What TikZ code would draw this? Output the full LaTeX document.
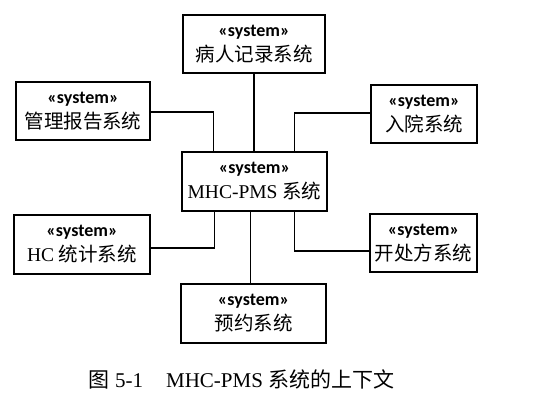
\documentclass[tikz,border=0pt]{standalone}
\usepackage{fontspec}
\setmainfont{Liberation Serif}
\newfontfamily\cjk{Noto Sans CJK SC}
\newfontfamily\stereofont{Carlito}
\newcommand{\stlabel}{{\stereofont\bfseries\fontsize{18}{18}\selectfont «system»}}
\tikzset{
  sysbox/.style={draw, line width=1.6pt, minimum height=58pt, align=center, inner sep=0pt,
    font=\fontsize{19.5}{25}\selectfont},
  conn/.style={line width=1.3pt},
  caption/.style={font=\fontsize{21}{23}\selectfont}
}
\begin{document}
\begin{tikzpicture}[x=1pt,y=1pt]
\useasboundingbox (0,0) rectangle (536,-408);
\node[sysbox, minimum width=142pt] (T) at (254,-44) {\stlabel\\{\cjk 病人记录系统}};
\node[sysbox, minimum width=134pt] (L) at (83,-111) {\stlabel\\{\cjk 管理报告系统}};
\node[sysbox, minimum width=106pt] (R) at (424,-114) {\stlabel\\{\cjk 入院系统}};
\node[sysbox, minimum width=145pt, minimum height=59pt] (C) at (254.5,-181.5) {\stlabel\\MHC-PMS {\cjk 系统}};
\node[sysbox, minimum width=136pt, minimum height=59pt] (H) at (82,-244.5) {\stlabel\\HC {\cjk 统计系统}};
\node[sysbox, minimum width=107pt] (P) at (423.5,-243) {\stlabel\\{\cjk 开处方系统}};
\node[sysbox, minimum width=145pt, minimum height=59pt] (B) at (253.5,-313.5) {\stlabel\\{\cjk 预约系统}};
\node[caption] (cap) at (241.5,-379) {{\cjk 图} 5-1\hspace{1.1em}MHC-PMS {\cjk 系统的上下文}};
\draw[conn] (T.south) -- (T.south |- C.north);
\draw[conn] ([yshift=-1pt]L.east) -| ([xshift=-41pt]C.north);
\draw[conn] ([yshift=1pt]R.west) -| ([xshift=40pt]C.north);
\draw[conn] ([xshift=-40pt]C.south) |- ([yshift=-3.5pt]H.east);
\draw[conn] ([xshift=40pt]C.south) |- ([yshift=-8pt]P.west);
\draw[conn] ([xshift=-3pt]B.north) -- ([xshift=-3pt]B.north |- C.south);
\end{tikzpicture}
\end{document}
